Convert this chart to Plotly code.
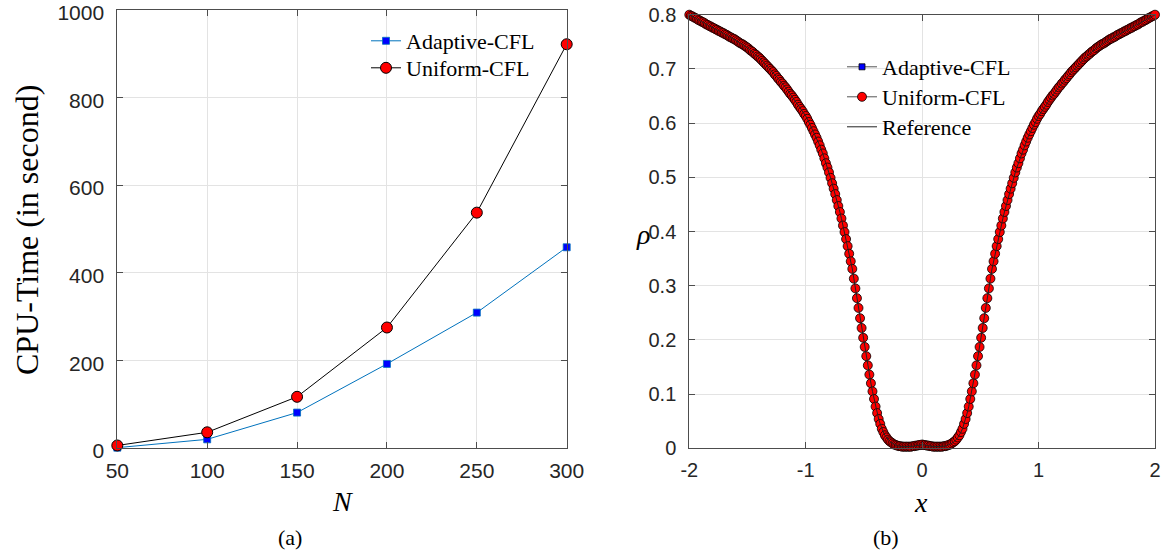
import numpy as np
import plotly.graph_objects as go

# ---------------- data: panel (a) ----------------
N_values = [50, 100, 150, 200, 250, 300]
cpu_adaptive = [1, 20, 81, 192, 309, 458]
cpu_uniform = [6, 36, 117, 275, 537, 921]

# ---------------- data: panel (b) ----------------
x_grid = np.linspace(-2, 2, 301)
rho_left = [
    0.800, 0.798, 0.797, 0.795, 0.794, 0.792, 0.790, 0.789, 0.787, 0.786,
    0.784, 0.782, 0.781, 0.779, 0.778, 0.776, 0.775, 0.773, 0.772, 0.770,
    0.769, 0.767, 0.766, 0.764, 0.763, 0.761, 0.759, 0.758, 0.756, 0.755,
    0.753, 0.751, 0.749, 0.747, 0.746, 0.744, 0.742, 0.740, 0.738, 0.735,
    0.733, 0.731, 0.728, 0.726, 0.723, 0.721, 0.718, 0.715, 0.712, 0.709,
    0.706, 0.703, 0.700, 0.697, 0.694, 0.690, 0.687, 0.683, 0.680, 0.676,
    0.673, 0.669, 0.666, 0.662, 0.658, 0.654, 0.651, 0.647, 0.643, 0.639,
    0.634, 0.630, 0.626, 0.622, 0.617, 0.613, 0.608, 0.602, 0.597, 0.591,
    0.585, 0.579, 0.573, 0.566, 0.559, 0.551, 0.544, 0.535, 0.526, 0.518,
    0.509, 0.499, 0.489, 0.479, 0.469, 0.458, 0.447, 0.436, 0.424, 0.411,
    0.399, 0.386, 0.373, 0.359, 0.345, 0.331, 0.313, 0.295, 0.277, 0.259,
    0.240, 0.222, 0.204, 0.187, 0.170, 0.153, 0.136, 0.120, 0.105, 0.091,
    0.077, 0.065, 0.054, 0.045, 0.036, 0.030, 0.024, 0.020, 0.016, 0.013,
    0.011, 0.009, 0.007, 0.006, 0.005, 0.004, 0.004, 0.003, 0.003, 0.003,
    0.003, 0.003, 0.003, 0.003, 0.004, 0.004, 0.005, 0.005, 0.006, 0.006,
    0.007,
]
rho_right = [
    0.006, 0.006, 0.005, 0.005, 0.004, 0.004, 0.003, 0.003, 0.003, 0.003,
    0.003, 0.003, 0.003, 0.004, 0.004, 0.005, 0.006, 0.007, 0.009, 0.011,
    0.013, 0.016, 0.020, 0.024, 0.030, 0.036, 0.045, 0.054, 0.065, 0.077,
    0.091, 0.105, 0.120, 0.136, 0.153, 0.170, 0.187, 0.204, 0.222, 0.240,
    0.259, 0.277, 0.295, 0.313, 0.331, 0.345, 0.359, 0.373, 0.386, 0.399,
    0.411, 0.424, 0.436, 0.447, 0.458, 0.469, 0.479, 0.489, 0.499, 0.509,
    0.518, 0.526, 0.535, 0.544, 0.551, 0.559, 0.566, 0.573, 0.579, 0.585,
    0.591, 0.597, 0.602, 0.608, 0.613, 0.617, 0.622, 0.626, 0.630, 0.634,
    0.639, 0.643, 0.647, 0.651, 0.654, 0.658, 0.662, 0.666, 0.669, 0.673,
    0.676, 0.680, 0.683, 0.687, 0.690, 0.694, 0.697, 0.700, 0.703, 0.706,
    0.709, 0.712, 0.715, 0.718, 0.721, 0.723, 0.726, 0.728, 0.731, 0.733,
    0.735, 0.738, 0.740, 0.742, 0.744, 0.746, 0.747, 0.749, 0.751, 0.753,
    0.755, 0.756, 0.758, 0.759, 0.761, 0.763, 0.764, 0.766, 0.767, 0.769,
    0.770, 0.772, 0.773, 0.775, 0.776, 0.778, 0.779, 0.781, 0.782, 0.784,
    0.786, 0.787, 0.789, 0.790, 0.792, 0.794, 0.795, 0.797, 0.798, 0.800,
]
rho_adaptive = rho_left + rho_right
rho_uniform = rho_left + rho_right
rho_reference = rho_left + rho_right

x_ticks_a = [50, 100, 150, 200, 250, 300]
y_ticks_a = [0, 200, 400, 600, 800, 1000]
x_ticks_b = [-2, -1, 0, 1, 2]
x_ticklabels_b = ["-2", "-1", "0", "1", "2"]
y_ticks_b = [0, 0.1, 0.2, 0.3, 0.4, 0.5, 0.6, 0.7, 0.8]
y_ticklabels_b = ["0", "0.1", "0.2", "0.3", "0.4", "0.5", "0.6", "0.7", "0.8"]

W, H = 1170, 556
SERIF = "Liberation Serif"
SANS = "Liberation Sans"
AX_COLOR = "#4d4d4d"
GRID = "#e3e3e3"


def px_x(p):
    return p / W


def px_y(p):
    return 1 - p / H


fig = go.Figure()

# panel (a)
fig.add_trace(go.Scatter(
    x=N_values, y=cpu_adaptive, mode="lines+markers", name="Adaptive-CFL",
    line=dict(color="#0072BD", width=1),
    marker=dict(symbol="square", size=7, color="#0000FF", line=dict(color="#0072BD", width=0.8)),
    xaxis="x", yaxis="y", legend="legend", cliponaxis=False,
))
fig.add_trace(go.Scatter(
    x=N_values, y=cpu_uniform, mode="lines+markers", name="Uniform-CFL",
    line=dict(color="black", width=1),
    marker=dict(symbol="circle", size=11, color="#FF0000", line=dict(color="black", width=1)),
    xaxis="x", yaxis="y", legend="legend2", cliponaxis=False,
))

# panel (b)
fig.add_trace(go.Scatter(
    x=x_grid, y=rho_adaptive, mode="lines+markers", name="Adaptive-CFL",
    line=dict(color="#555555", width=1),
    marker=dict(symbol="square", size=6, color="#0000FF", line=dict(color="black", width=0.8)),
    xaxis="x2", yaxis="y2", legend="legend3", cliponaxis=False,
))
fig.add_trace(go.Scatter(
    x=x_grid, y=rho_uniform, mode="lines+markers", name="Uniform-CFL",
    line=dict(color="#555555", width=1),
    marker=dict(symbol="circle", size=9, color="#FF0000", line=dict(color="black", width=0.8)),
    xaxis="x2", yaxis="y2", legend="legend4", cliponaxis=False,
))
fig.add_trace(go.Scatter(
    x=x_grid, y=rho_reference, mode="lines", name="Reference",
    line=dict(color="#222222", width=1),
    xaxis="x2", yaxis="y2", legend="legend5",
))

axis_common = dict(
    showline=True, linecolor=AX_COLOR, linewidth=1, mirror="ticks",
    ticks="inside", ticklen=6, tickcolor=AX_COLOR, tickwidth=1,
    showgrid=True, gridcolor=GRID, gridwidth=1, zeroline=False,
    automargin=False, ticklabeloverflow="allow",
)
tick_font = dict(family=SANS, size=21, color="#262626")
tick_font_b = dict(family=SANS, size=20, color="#262626")


def legend_at(xp, yp):
    return dict(x=px_x(xp), y=px_y(yp), xanchor="left", yanchor="middle",
                bgcolor="rgba(0,0,0,0)", borderwidth=0,
                font=dict(family=SERIF, size=22, color="black"),
                tracegroupgap=0, itemwidth=30)


fig.update_layout(
    template="none",
    width=W, height=H, autosize=False,
    margin=dict(l=0, r=0, t=0, b=0, pad=0),
    paper_bgcolor="white", plot_bgcolor="white",
    showlegend=True,
    xaxis=dict(domain=[px_x(117.3), px_x(566.7)], range=[50, 300],
               tickvals=x_ticks_a, ticklabelstandoff=4, anchor="y",
               tickfont=tick_font, **axis_common),
    yaxis=dict(domain=[px_y(448.1), px_y(9.6)], range=[0, 1000],
               tickvals=y_ticks_a, ticklabelstandoff=8, ticklabelshift=3, anchor="x",
               tickfont=tick_font, **axis_common),
    xaxis2=dict(domain=[px_x(689.3), px_x(1155)], range=[-2, 2],
                tickvals=x_ticks_b, ticktext=x_ticklabels_b, ticklabelstandoff=4,
                anchor="y2", tickfont=tick_font_b, **axis_common),
    yaxis2=dict(domain=[px_y(448.3), px_y(14.7)], range=[0, 0.8],
                tickvals=y_ticks_b, ticktext=y_ticklabels_b, ticklabelstandoff=8,
                anchor="x2", tickfont=tick_font_b, **axis_common),
    legend=legend_at(366, 41),
    legend2=legend_at(366, 68),
    legend3=legend_at(842, 67),
    legend4=legend_at(842, 97),
    legend5=legend_at(842, 127),
)

annotations = [
    dict(text="CPU-Time (in second)", x=px_x(27), y=px_y(230), textangle=-90,
         font=dict(family=SERIF, size=32, color="black")),
    dict(text="<i>N</i>", x=px_x(342), y=px_y(501),
         font=dict(family=SERIF, size=28, color="black")),
    dict(text="(a)", x=px_x(290), y=px_y(537),
         font=dict(family=SERIF, size=22, color="black")),
    dict(text="<i>ρ</i>", x=px_x(643), y=px_y(234),
         font=dict(family=SERIF, size=28, color="black")),
    dict(text="<i>x</i>", x=px_x(921), y=px_y(502),
         font=dict(family=SERIF, size=28, color="black")),
    dict(text="(b)", x=px_x(886), y=px_y(537),
         font=dict(family=SERIF, size=22, color="black")),
]
for a in annotations:
    a.update(xref="paper", yref="paper", showarrow=False, xanchor="center", yanchor="middle")
fig.update_layout(annotations=annotations)

fig.write_html("out.html")
